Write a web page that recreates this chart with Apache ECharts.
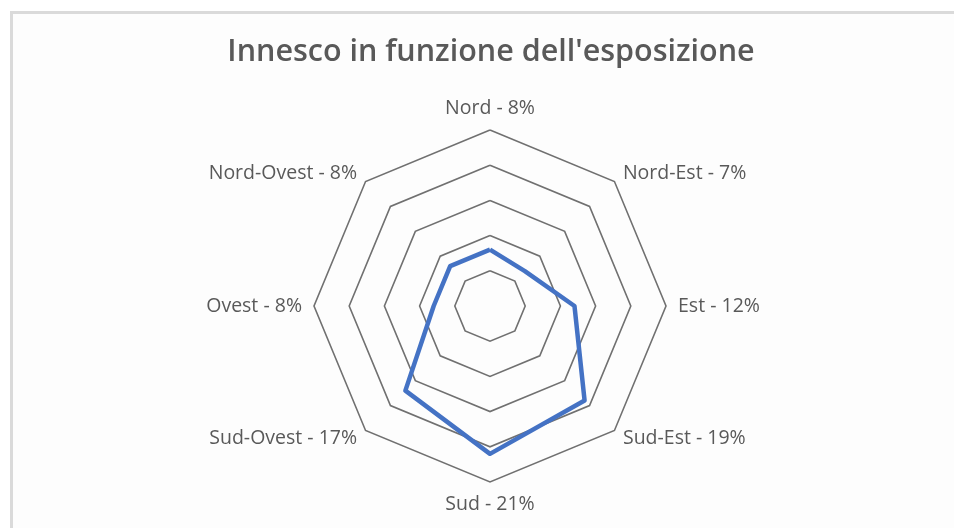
<!DOCTYPE html>
<html>
<head>
<meta charset="utf-8">
<script src="https://cdn.jsdelivr.net/npm/echarts@6/dist/echarts.min.js"></script>
<style>
    html, body { margin: 0; padding: 0; background: #ffffff; overflow: hidden; }
    #frame {
        position: absolute; left: 10px; top: 11px; right: 0; bottom: 0;
        border-left: 3px solid #dadada; border-top: 3px solid #dadada; background: #fdfdfd;
    }
    #radar-echarts { position: absolute; left: 0; top: 0; width: 954px; height: 528px; }
</style>
</head>
<body>
<div id="frame"></div>
<div id="radar-echarts"></div>
<script>
//esposizioni, in senso orario partendo da Nord
var directions = ['Nord', 'Nord-Est', 'Est', 'Sud-Est', 'Sud', 'Sud-Ovest', 'Ovest', 'Nord-Ovest'];
var percents = [8, 7, 12, 19, 21, 17, 8, 8];
var axisMax = 25;

//echarts disegna il radar in senso antiorario: inverto l'ordine dopo Nord
var order = [0, 7, 6, 5, 4, 3, 2, 1];
var indicators = order.map(function (i) {
    return { name: directions[i] + ' - ' + percents[i] + '%', min: 0, max: axisMax };
});
var values = order.map(function (i) { return percents[i]; });

var radarEcharts = echarts.init(document.getElementById('radar-echarts'));
var radarOption = {
    backgroundColor: 'transparent',
    title: {
        text: "Innesco in funzione dell'esposizione",
        left: 486,
        top: 32,
        textAlign: 'center',
        textStyle: {
            fontFamily: 'Open Sans',
            fontSize: 30.5,
            fontWeight: 600,
            color: '#595959'
        }
    },
    radar: {
        center: [490, 306],
        radius: 176,
        shape: 'polygon',
        splitNumber: 5,
        indicator: indicators,
        nameGap: 12,
        axisName: {
            fontFamily: 'Open Sans',
            fontSize: 19.5,
            color: '#595959'
        },
        axisLine: { show: false },
        axisTick: { show: false },
        splitArea: { show: false },
        splitLine: {
            lineStyle: {
                color: '#707070',
                width: 1.6
            }
        }
    },
    series: [{
        type: 'radar',
        symbol: 'none',
        lineStyle: {
            color: '#4472c4',
            width: 4.5
        },
        data: [{ value: values, name: 'Innesco' }]
    }]
};
radarEcharts.setOption(radarOption);
</script>
</body>
</html>
